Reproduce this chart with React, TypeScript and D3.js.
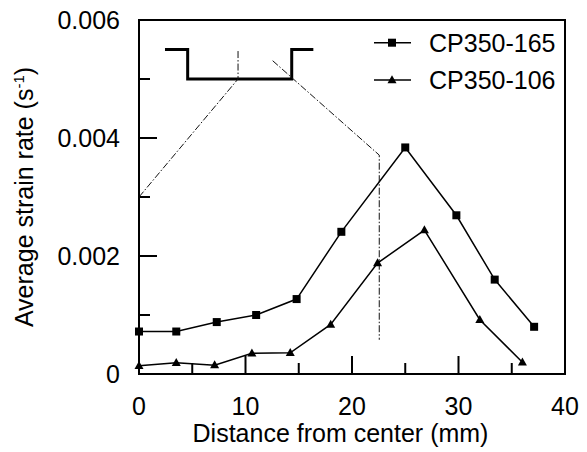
import React from "react";
import * as d3 from "d3";

const xTicksMajor = [0, 10, 20, 30, 40];
const xTicksMinor = [5, 15, 25, 35];
const yTicksMajor = [0, 0.002, 0.004, 0.006];
const yTicksMinor = [0.001, 0.003, 0.005];
const yTickLabels = ["0", "0.002", "0.004", "0.006"];

const s165X = [0, 3.5, 7.3, 11.0, 14.8, 19.0, 25.0, 29.8, 33.4, 37.1];
const s165Y = [0.00072, 0.00072, 0.00088, 0.001, 0.00127, 0.00241, 0.00384, 0.00269, 0.0016, 0.0008];
const s106X = [0, 3.5, 7.1, 10.6, 14.2, 18.0, 22.4, 26.8, 32.0, 36.0];
const s106Y = [0.00014, 0.00019, 0.00015, 0.00035, 0.00036, 0.00084, 0.00188, 0.00244, 0.00092, 0.0002];

const seriesNames = ["CP350-165", "CP350-106"];

// schematic step outline
const stepX = [2.44, 4.57, 4.57, 14.34, 14.34, 16.37];
const stepY = [0.0055, 0.0055, 0.005, 0.005, 0.0055, 0.0055];
// dash-dot guide lines
const guideLeftX = [0, 9.3, 9.3];
const guideLeftY = [0.003, 0.005, 0.0055];
const guideRightX = [12.55, 22.56, 22.56];
const guideRightY = [0.00531, 0.00371, 0.00058];

const W = 587, H = 452;
const L = 139, R = 565, T = 20, B = 374;

export default function App() {
  const x = d3.scaleLinear().domain([0, 40]).range([L, R]);
  const y = d3.scaleLinear().domain([0, 0.006]).range([B, T]);
  const line = d3.line<[number, number]>().x(d => x(d[0])).y(d => y(d[1]));
  const zip = (a: number[], b: number[]) => a.map((v, i) => [v, b[i]] as [number, number]);
  const d165 = zip(s165X, s165Y);
  const d106 = zip(s106X, s106Y);
  const font = "'Liberation Sans', Arial, sans-serif";
  const fs = 25;
  const sq = 8;
  const tri = (cx: number, cy: number) => {
    const w = 9, h = 8;
    return `M${cx},${cy - h * 0.6}L${cx + w / 2},${cy + h * 0.4}L${cx - w / 2},${cy + h * 0.4}Z`;
  };
  const dash = "7,2,1.5,2";
  return (
    <svg width={W} height={H} style={{ position: "absolute", left: 0, top: 0 }} fontFamily={font}>
      <rect x={0} y={0} width={W} height={H} fill="#fff" />
      {/* schematic */}
      <path d={line(zip(stepX, stepY)) || ""} fill="none" stroke="#000" strokeWidth={3} />
      <path d={line(zip(guideLeftX, guideLeftY)) || ""} fill="none" stroke="#111" strokeWidth={1} strokeDasharray={dash} />
      <path d={line(zip(guideRightX, guideRightY)) || ""} fill="none" stroke="#111" strokeWidth={1} strokeDasharray={dash} />
      {/* ticks */}
      {xTicksMajor.slice(1, -1).map(t => (
        <line key={"xM" + t} x1={x(t)} x2={x(t)} y1={B} y2={B - 18} stroke="#000" strokeWidth={2} />
      ))}
      {xTicksMinor.map(t => (
        <line key={"xm" + t} x1={x(t)} x2={x(t)} y1={B} y2={B - 11} stroke="#000" strokeWidth={2} />
      ))}
      {yTicksMajor.slice(1, -1).map(t => (
        <line key={"yM" + t} x1={L} x2={L + 18} y1={y(t)} y2={y(t)} stroke="#000" strokeWidth={2} />
      ))}
      {yTicksMinor.map(t => (
        <line key={"ym" + t} x1={L} x2={L + 11} y1={y(t)} y2={y(t)} stroke="#000" strokeWidth={2} />
      ))}
      <rect x={L} y={T} width={R - L} height={B - T} fill="none" stroke="#000" strokeWidth={2} />
      {/* series */}
      <path d={line(d165) || ""} fill="none" stroke="#000" strokeWidth={1.5} />
      <path d={line(d106) || ""} fill="none" stroke="#000" strokeWidth={1.5} />
      {d165.map((d, i) => (
        <rect key={"s" + i} x={x(d[0]) - sq / 2} y={y(d[1]) - sq / 2} width={sq} height={sq} fill="#000" />
      ))}
      {d106.map((d, i) => (
        <path key={"t" + i} d={tri(x(d[0]), y(d[1]))} fill="#000" />
      ))}
      {/* tick labels */}
      {xTicksMajor.map(t => (
        <text key={"xl" + t} x={x(t)} y={415} textAnchor="middle" fontSize={fs}>{t}</text>
      ))}
      {yTicksMajor.map((t, i) => (
        <text key={"yl" + t} x={120} y={y(t) + 9} textAnchor="end" fontSize={fs}>{yTickLabels[i]}</text>
      ))}
      {/* axis titles */}
      <text x={340.5} y={442} textAnchor="middle" fontSize={fs}>Distance from center (mm)</text>
      <text transform={`translate(33,197) rotate(-90)`} textAnchor="middle" fontSize={fs}>
        Average strain rate (s<tspan dy={-9} fontSize={15}>-1</tspan><tspan dy={9}>)</tspan>
      </text>
      {/* legend */}
      <line x1={374} x2={411} y1={42.7} y2={42.7} stroke="#000" strokeWidth={1.5} />
      <rect x={392 - sq / 2} y={42.7 - sq / 2} width={sq} height={sq} fill="#000" />
      <text x={429} y={42.7 + 9} fontSize={fs}>{seriesNames[0]}</text>
      <line x1={374} x2={411} y1={80} y2={80} stroke="#000" strokeWidth={1.5} />
      <path d={tri(392, 80)} fill="#000" />
      <text x={429} y={80 + 9} fontSize={fs}>{seriesNames[1]}</text>
    </svg>
  );
}
